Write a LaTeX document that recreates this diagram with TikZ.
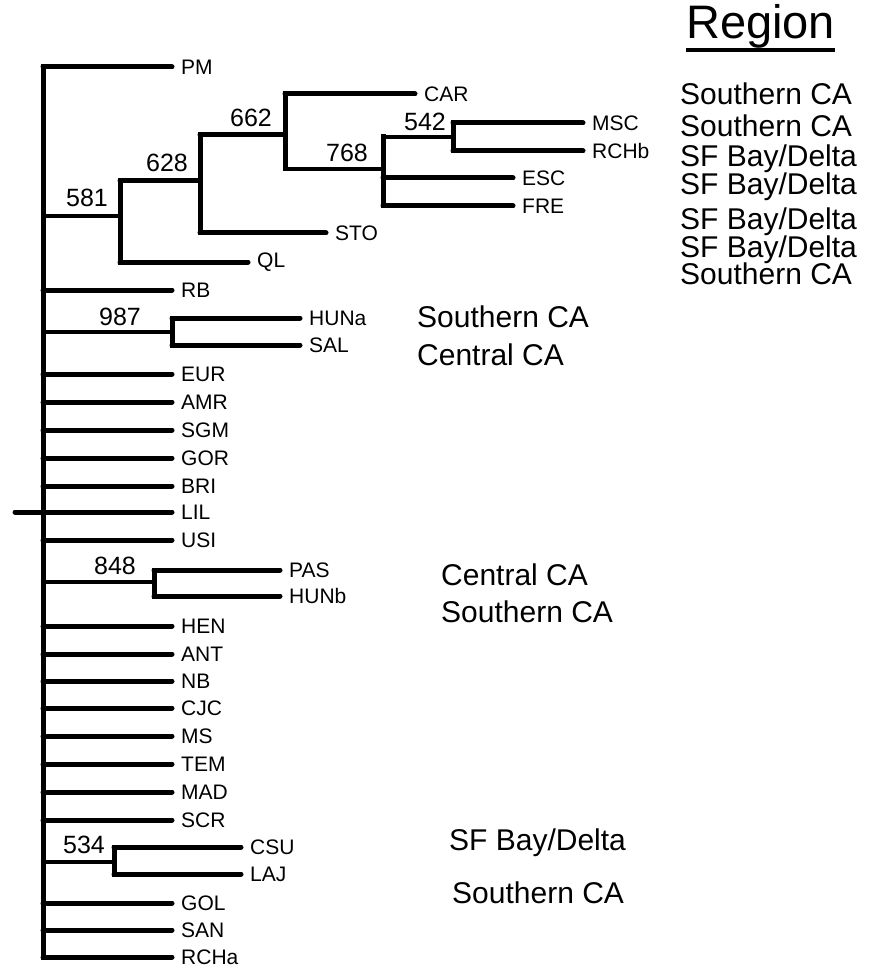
\documentclass[tikz,border=0pt]{standalone}
\usepackage{fontspec}
\setmainfont{Liberation Sans}
\usepackage{tikz}

\tikzset{
  branch/.style={line width=5pt,line cap=round},
  twig/.style={line width=3.5pt,line cap=round},
  bar/.style={line width=5pt,line cap=rect},
  taxon/.style={anchor=west,inner xsep=9pt,inner ysep=0pt,font=\fontsize{21}{21}\selectfont},
  boot/.style={inner sep=0pt,font=\fontsize{25}{25}\selectfont},
  region/.style={anchor=base west,inner sep=0pt,font=\fontsize{30}{30}\selectfont},
}

\begin{document}
\begin{tikzpicture}[x=1pt,y=-1pt]
\useasboundingbox (0,0) rectangle (872,968);
% internal nodes
\coordinate (stub) at (15,512);
\coordinate (root) at (43,512);
\coordinate (n581) at (120,216);
\coordinate (n628) at (200,181);
\coordinate (n662) at (285,135);
\coordinate (n768) at (383,169);
\coordinate (n542) at (453,137);
\coordinate (n987) at (172,332);
\coordinate (n848) at (154,582);
\coordinate (n534) at (114,862);
% taxa hanging straight off the trunk
\foreach \t/\y in {PM/67,RB/290,EUR/374,AMR/402,SGM/430,GOR/458,BRI/486,LIL/512,USI/540,
  HEN/626,ANT/654,NB/681,CJC/708,MS/736,TEM/764,MAD/792,SCR/820,GOL/903,SAN/930,RCHa/957}{
  \node[taxon] (\t) at (172,\y) {\t};
  \draw[branch] (root |- \t.west) -- (\t.west);
}
\draw[bar] (root |- PM.west) -- (root |- RCHa.west);
\draw[branch] (stub) -- (root);
% upper clade
\node[taxon] (QL) at (248,262) {QL};
\node[taxon] (STO) at (326,233) {STO};
\node[taxon] (CAR) at (415,94) {CAR};
\node[taxon] (MSC) at (583,123) {MSC};
\node[taxon] (RCHb) at (583,151) {RCHb};
\node[taxon] (ESC) at (513,178) {ESC};
\node[taxon] (FRE) at (513,206) {FRE};
\draw[twig] (root |- n581) -- (n581);
\draw[bar] (n581 |- n628) -- (n581 |- QL.west);
\draw[branch] (n581 |- n628) -- (n628);
\draw[branch] (n581 |- QL.west) -- (QL.west);
\draw[bar] (n628 |- n662) -- (n628 |- STO.west);
\draw[branch] (n628 |- n662) -- (n662);
\draw[branch] (n628 |- STO.west) -- (STO.west);
\draw[bar] (n662 |- CAR.west) -- (n662 |- n768);
\draw[branch] (n662 |- CAR.west) -- (CAR.west);
\draw[twig] (n662 |- n768) -- (n768);
\draw[bar] (n768 |- n542) -- (n768 |- FRE.west);
\draw[twig] (n768 |- n542) -- (n542);
\draw[branch] (n768 |- ESC.west) -- (ESC.west);
\draw[branch] (n768 |- FRE.west) -- (FRE.west);
\draw[bar] (n542 |- MSC.west) -- (n542 |- RCHb.west);
\draw[branch] (n542 |- MSC.west) -- (MSC.west);
\draw[branch] (n542 |- RCHb.west) -- (RCHb.west);
% small clades
\node[taxon] (HUNa) at (300,318) {HUNa};
\node[taxon] (SAL) at (300,345) {SAL};
\node[taxon] (PAS) at (280,570) {PAS};
\node[taxon] (HUNb) at (280,596) {HUNb};
\node[taxon] (CSU) at (241,847) {CSU};
\node[taxon] (LAJ) at (241,874) {LAJ};
\foreach \n/\a/\b in {n987/HUNa/SAL,n848/PAS/HUNb,n534/CSU/LAJ}{
  \draw[twig] (root |- \n) -- (\n);
  \draw[bar] (\n |- \a.west) -- (\n |- \b.west);
  \draw[branch] (\n |- \a.west) -- (\a.west);
  \draw[branch] (\n |- \b.west) -- (\b.west);
}
% bootstrap values
\node[boot] (b581) at (87,198) {581};
\node[boot] (b628) at (167,163) {628};
\node[boot] (b662) at (251,118) {662};
\node[boot] (b768) at (347,153) {768};
\node[boot] (b542) at (425,122) {542};
\node[boot] (b987) at (120,317) {987};
\node[boot] (b848) at (115,566) {848};
\node[boot] (b534) at (84,845) {534};
% regions
\node[anchor=base west,inner sep=0pt,font=\fontsize{47}{47}\selectfont] (title) at (686,39) {Region};
\draw[line width=3.5pt] ([yshift=-11pt]title.base west) -- ([yshift=-11pt]title.base east);
\foreach \r/\y/\s in {r1/104.7/Southern CA,r2/136.7/Southern CA,r3/166.7/SF Bay\slash Delta,
  r4/194.7/SF Bay\slash Delta,r5/229.7/SF Bay\slash Delta,r6/257.7/SF Bay\slash Delta,r7/284.7/Southern CA}{
  \node[region] (\r) at (680,\y) {\s};
}
\node[region] (rHUNa) at (417,327) {Southern CA};
\node[region] (rSAL) at (417,365) {Central CA};
\node[region] (rPAS) at (441,585) {Central CA};
\node[region] (rHUNb) at (441,622) {Southern CA};
\node[region] (rCSU) at (449,850) {SF Bay/Delta};
\node[region] (rLAJ) at (452,903) {Southern CA};
\end{tikzpicture}
\end{document}
